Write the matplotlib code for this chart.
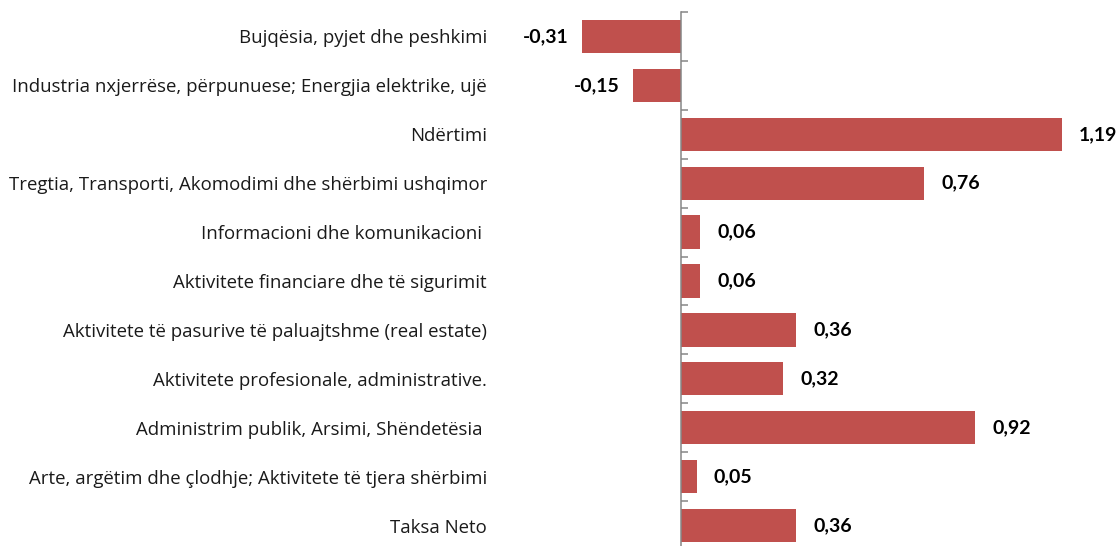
import matplotlib
matplotlib.use("Agg")
import matplotlib.pyplot as plt

categories = [
    "Bujqësia, pyjet dhe peshkimi",
    "Industria nxjerrëse, përpunuese; Energjia elektrike, ujë",
    "Ndërtimi",
    "Tregtia, Transporti, Akomodimi dhe shërbimi ushqimor",
    "Informacioni dhe komunikacioni ",
    "Aktivitete financiare dhe të sigurimit",
    "Aktivitete të pasurive të paluajtshme (real estate)",
    "Aktivitete profesionale, administrative.",
    "Administrim publik, Arsimi, Shëndetësia ",
    "Arte, argëtim dhe çlodhje; Aktivitete të tjera shërbimi",
    "Taksa Neto",
]
values = [-0.31, -0.15, 1.19, 0.76, 0.06, 0.06, 0.36, 0.32, 0.92, 0.05, 0.36]

plt.rcParams['font.family'] = ['Open Sans', 'DejaVu Sans']

W, H = 1120, 546
fig = plt.figure(figsize=(W / 100, H / 100), dpi=100)
# axes placed in pixel terms: zero line at x=681, ~320 px per unit
x0, ppu = 681, 320
left_px, right_px = 560, 1120
top_px, bot_px = 12, 550
ax = fig.add_axes([left_px / W, (H - bot_px) / H,
                   (right_px - left_px) / W, (bot_px - top_px) / H])
ax.set_xlim((left_px - x0) / ppu, (right_px - x0) / ppu)
ax.set_ylim(len(values) - 0.5, -0.5)

ypos = list(range(len(values)))
ax.barh(ypos, values, height=0.68, color='#C0504D', zorder=2)

for s in ['top', 'right', 'bottom']:
    ax.spines[s].set_visible(False)
ax.spines['left'].set_position(('data', 0))
ax.spines['left'].set_color('#868686')
ax.spines['left'].set_linewidth(1.1)
ax.set_xticks([])

ax.set_yticks(ypos)
ax.set_yticklabels(categories, fontsize=13.4, color='#1a1a1a')
ax.set_yticks([y - 0.5 for y in ypos], minor=True)
ax.tick_params(axis='y', which='major', length=0, pad=(x0 - 487) * 0.72)
ax.tick_params(axis='y', which='minor', direction='in', length=5,
               color='#868686', width=1.1)

for y, v in zip(ypos, values):
    txt = f"{v:.2f}".replace('.', ',')
    off = -13 if v < 0 else 17
    ax.annotate(txt, (v, y), xytext=(off * 0.72, 0), textcoords='offset points',
                ha='right' if v < 0 else 'left', va='center',
                fontsize=14, fontweight='bold', family=['Lato', 'DejaVu Sans'])

fig.savefig('out.png', dpi=100)
